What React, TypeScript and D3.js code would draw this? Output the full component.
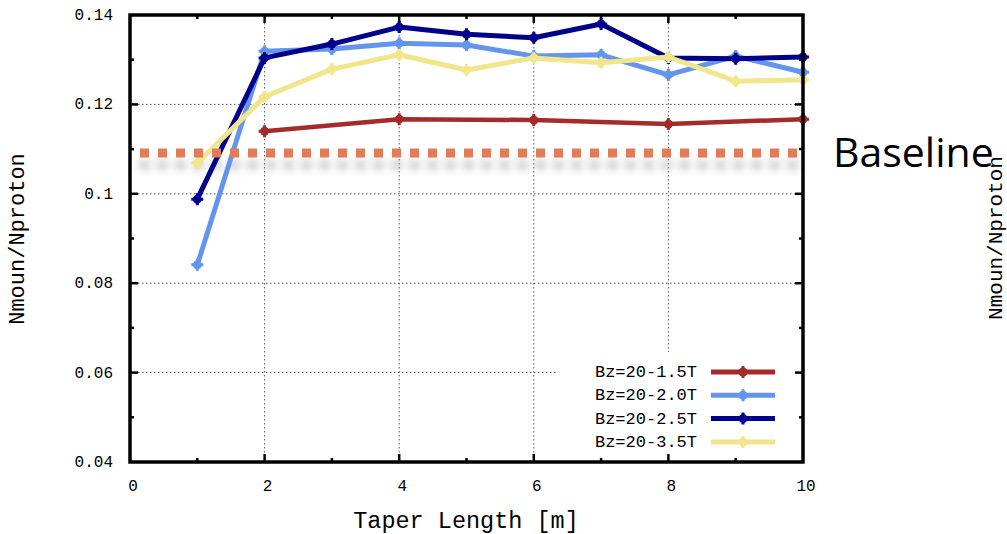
import React from "react";
import * as d3 from "d3";

const xsAll = [1, 2, 3, 4, 5, 6, 7, 8, 9, 10];
const xsEven = [2, 4, 6, 8, 10];
const bz15 = [0.114, 0.1167, 0.1165, 0.1156, 0.1167];
const bz20 = [0.0841, 0.1319, 0.1324, 0.1337, 0.1333, 0.1308, 0.1311, 0.1266, 0.1308, 0.1272];
const bz25 = [0.0988, 0.1304, 0.1335, 0.1373, 0.1357, 0.1349, 0.138, 0.1304, 0.1302, 0.1306];
const bz35 = [0.1069, 0.1217, 0.1279, 0.1311, 0.1277, 0.1304, 0.1293, 0.1306, 0.1252, 0.1255];
const baselineValue = 0.1091;
const xTickLabels = [0, 2, 4, 6, 8, 10];
const yTickLabels = [0.04, 0.06, 0.08, 0.1, 0.12, 0.14];

const series = [
  { name: "Bz=20-1.5T", xs: xsEven, ys: bz15, color: "#a52a2a", width: 4.5 },
  { name: "Bz=20-2.0T", xs: xsAll, ys: bz20, color: "#6495ed", width: 5 },
  { name: "Bz=20-2.5T", xs: xsAll, ys: bz25, color: "#00008b", width: 5 },
  { name: "Bz=20-3.5T", xs: xsAll, ys: bz35, color: "#f0e68c", width: 5 },
];

const W = 1007;
const H = 534;
const mono = "'Liberation Mono', 'Courier New', monospace";

const Marker = ({ cx, cy, color }: { cx: number; cy: number; color: string }) => (
  <g>
    <circle cx={cx} cy={cy} r={4.5} fill={color} />
    <path
      d={`M${cx - 6},${cy}H${cx + 6}M${cx},${cy - 6}V${cy + 6}`}
      stroke={color}
      strokeWidth={3}
    />
  </g>
);

const App = () => {
  const x = d3.scaleLinear().domain([0, 10]).range([130, 803]);
  const y = d3.scaleLinear().domain([0.04, 0.14]).range([462, 15]);
  const [x0, x1] = x.range();
  const [y0, y1] = y.range();

  const line = d3
    .line<[number, number]>()
    .x(d => x(d[0]))
    .y(d => y(d[1]));

  const minorX = d3.range(1, 10);
  const minorY = d3.range(0.05, 0.14, 0.02);
  const gridX = [2, 4, 6, 8];
  const gridY = [0.06, 0.08, 0.1, 0.12];

  const legendTop = 372;
  const legendStep = 23.3;
  const by = y(baselineValue);

  return (
    <svg
      width={W}
      height={H}
      style={{ position: "absolute", left: 0, top: 0, background: "#fff" }}
    >
      <defs>
        <filter
          id="shadow"
          filterUnits="userSpaceOnUse"
          x={100}
          y={by - 20}
          width={760}
          height={60}
        >
          <feGaussianBlur stdDeviation="4" />
        </filter>
      </defs>
      <rect width={W} height={H} fill="#fff" />

      {/* grid */}
      <g stroke="#555" strokeWidth={1} strokeDasharray="1.5,2.5">
        {gridX.map(v => (
          <line key={"gx" + v} x1={x(v)} x2={x(v)} y1={y1} y2={y0} />
        ))}
        {gridY.map(v => (
          <line key={"gy" + v} x1={x0} x2={x1} y1={y(v)} y2={y(v)} />
        ))}
      </g>

      {/* legend background */}
      <rect x={556} y={352} width={240} height={106} fill="#fff" />

      {/* ticks */}
      <g stroke="#000" strokeWidth={2.5}>
        {minorX.map(v => {
          const len = v % 2 === 0 ? 8 : 4;
          return (
            <g key={"tx" + v}>
              <line x1={x(v)} x2={x(v)} y1={y0} y2={y0 - len} />
              <line x1={x(v)} x2={x(v)} y1={y1} y2={y1 + len} />
            </g>
          );
        })}
        {gridY.map(v => (
          <g key={"ty" + v}>
            <line x1={x0} x2={x0 + 8} y1={y(v)} y2={y(v)} />
            <line x1={x1} x2={x1 - 8} y1={y(v)} y2={y(v)} />
          </g>
        ))}
        {minorY.map(v => (
          <g key={"tym" + v}>
            <line x1={x0} x2={x0 + 4} y1={y(v)} y2={y(v)} />
            <line x1={x1} x2={x1 - 4} y1={y(v)} y2={y(v)} />
          </g>
        ))}
      </g>

      {/* baseline shadow sits under the series */}
      <line
        x1={140}
        x2={803}
        y1={by + 12}
        y2={by + 12}
        stroke="#888"
        strokeWidth={9}
        strokeDasharray="9,9"
        opacity={0.55}
        filter="url(#shadow)"
      />

      {/* series */}
      {series.map(s => {
        const pts = s.xs.map((v, i) => [v, s.ys[i]] as [number, number]);
        return (
          <g key={s.name}>
            <path
              d={line(pts) || ""}
              fill="none"
              stroke={s.color}
              strokeWidth={s.width}
              strokeLinejoin="round"
            />
            {pts.map((p, i) => (
              <Marker key={i} cx={x(p[0])} cy={y(p[1])} color={s.color} />
            ))}
          </g>
        );
      })}

      {/* frame */}
      <rect
        x={x0}
        y={y1}
        width={x1 - x0}
        height={y0 - y1}
        fill="none"
        stroke="#000"
        strokeWidth={3.5}
      />

      {/* tick labels */}
      <g fontFamily={mono} fontSize={16} fill="#000">
        {yTickLabels.map(v => (
          <text key={"yl" + v} x={113} y={y(v) + 5} textAnchor="end">
            {d3.format("")(v)}
          </text>
        ))}
        {xTickLabels.map(v => (
          <text key={"xl" + v} x={x(v) + 3} y={491} textAnchor="middle">
            {v}
          </text>
        ))}
      </g>

      {/* legend */}
      <g fontFamily={mono} fontSize={17}>
        {series.map((s, i) => {
          const ly = legendTop + i * legendStep;
          return (
            <g key={"lg" + s.name}>
              <text x={697} y={ly + 5} textAnchor="end">
                {s.name}
              </text>
              <line x1={711} x2={775} y1={ly} y2={ly} stroke={s.color} strokeWidth={5} />
              <Marker cx={743} cy={ly} color={s.color} />
            </g>
          );
        })}
      </g>

      {/* axis titles */}
      <text
        x={466}
        y={528}
        textAnchor="middle"
        fontFamily={mono}
        fontSize={23.5}
      >
        Taper Length [m]
      </text>
      <text
        transform={`translate(24,239) rotate(-90)`}
        textAnchor="middle"
        fontFamily={mono}
        fontSize={22}
      >
        Nmoun/Nproton
      </text>
      <text
        transform={`translate(1002,238) rotate(-90)`}
        textAnchor="middle"
        fontFamily={mono}
        fontSize={21}
      >
        Nmoun/Nproton
      </text>

      {/* baseline */}
      <line
        x1={140}
        x2={803}
        y1={by}
        y2={by}
        stroke="#e07b5c"
        strokeWidth={9}
        strokeDasharray="9,9"
      />
      <text
        x={833}
        y={by + 14}
        fontFamily="'Open Sans', 'Noto Sans', sans-serif"
        fontSize={41}
        fill="#000"
      >
        Baseline
      </text>
    </svg>
  );
};

export default App;
